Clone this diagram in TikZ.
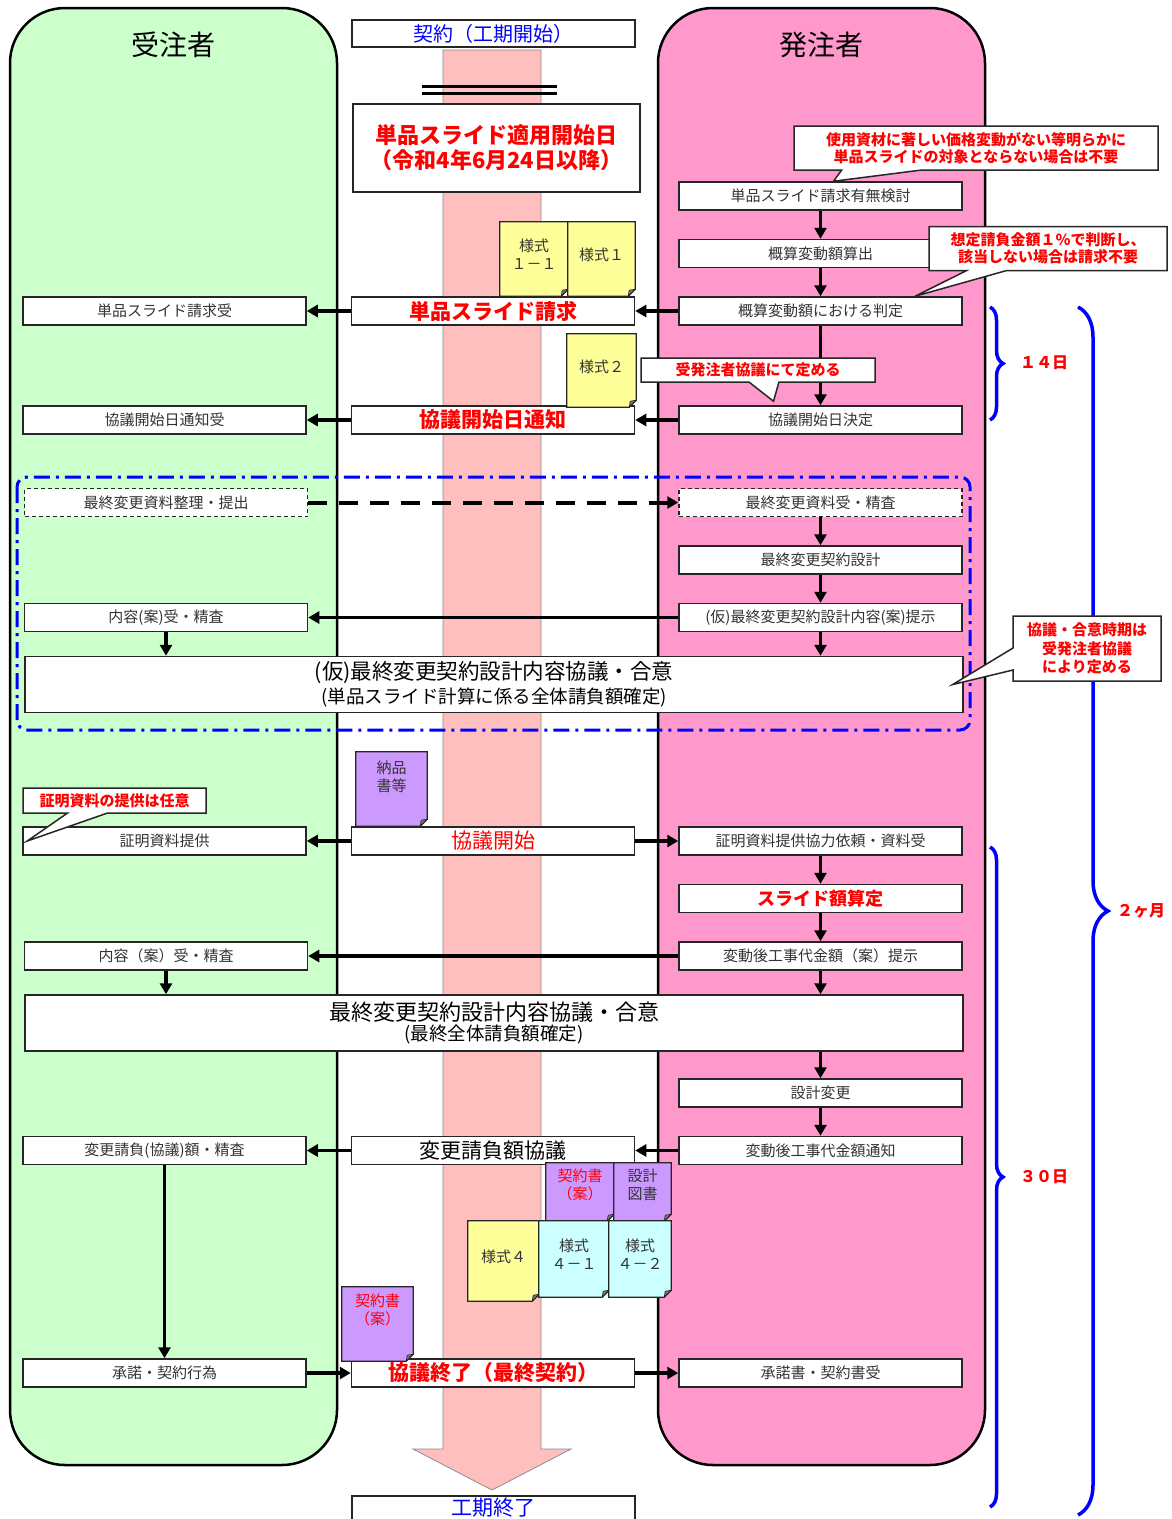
\documentclass[tikz,border=0pt]{standalone}
\usepackage{fontspec}
\setmainfont{Noto Sans CJK JP}
\usepackage{tikz}
\usetikzlibrary{arrows,arrows.meta,positioning,shapes.callouts,decorations.pathreplacing}
\definecolor{laneA}{HTML}{CCFFCC}
\definecolor{laneB}{HTML}{FF99CC}
\definecolor{band}{HTML}{FFBFBF}
\definecolor{formY}{HTML}{FFFF99}
\definecolor{formP}{HTML}{CC99FF}
\definecolor{formC}{HTML}{CCFFFF}
\newcommand{\mSize}[2]{\fontsize{#1}{#2}\selectfont}
\newcommand{\msg}[3][flow]{\draw[#1] (#2) -- (#3)}
\newcommand{\form}[7][]{%
  \node[minimum width=#4, minimum height=#5, inner sep=0pt] (#2) at (#3) {};
  \filldraw[fill=#6, draw=black!85, line width=1.2pt] (#2.north west) -- (#2.north east) -- ([yshift=7pt]#2.south east) -- ([xshift=-7pt]#2.south east) -- (#2.south west) -- cycle;
  \filldraw[fill=black!55, draw=black!85, line width=0.6pt] ([yshift=7pt]#2.south east) -- ([xshift=-7pt]#2.south east) -- ([xshift=-6pt,yshift=6pt]#2.south east) -- cycle;
  \node[formtext,#1] (#2t) at (#2) {#7}}
\tikzset{
  lane/.style={line width=2.5pt, rounded corners=55pt},
  box/.style={draw=black!85, line width=1.5pt, fill=white, minimum width=283pt, minimum height=28pt, inner sep=0pt, text=black!80, font=\mSize{15}{18}},
  dbox/.style={box, dash pattern=on 4pt off 3pt},
  hotbox/.style={box, text=red, font=\mSize{21}{24}\bfseries},
  widebox/.style={box, minimum width=938pt, minimum height=56pt, align=center, text=black},
  note/.style={rectangle callout, draw=black!85, line width=1.5pt, fill=white, text=red, font=\mSize{15}{17}\bfseries, align=center, inner sep=2pt, callout pointer width=40pt},
  formtext/.style={align=center, text=black!80, font=\mSize{15}{18}},
  flow/.style={line width=3.5pt, -{Triangle[length=11pt,width=12pt]}},
  tbrace/.style={draw=blue, line width=3.5pt, decorate, decoration={brace, amplitude=#1}},
  days/.style={text=red, font=\mSize{16}{18}\bfseries}
}

\begin{document}
\begin{tikzpicture}[x=1pt,y=1pt]
    \useasboundingbox (0,0) rectangle (1172,-1519);
    \draw [lane, fill=laneA] (10,-8) rectangle (337,-1465);
    \draw [lane, fill=laneB] (658,-8) rectangle (985,-1465);
    \node[font=\mSize{28}{30}] (ctr) at (173,-45) {受注者};
    \node[font=\mSize{28}{30}] (own) at (821,-45) {発注者};
    \filldraw [fill=band, draw=black!45, line width=0.8pt] (443,-50) -- (541,-50) -- (541,-1449) -- (571,-1449) -- (492,-1490) -- (413,-1449) -- (443,-1449) -- cycle;
    \draw [line width=3pt] (422,-86) -- (557,-86);
    \draw [line width=3pt] (422,-93) -- (557,-93);
    \draw [blue, line width=3pt, dash pattern=on 16pt off 6pt on 3pt off 6pt, rounded corners=10pt] (17,-477) rectangle (970,-730);
    % time spans
    \draw [tbrace=13pt] (990,-307) -- (990,-420);
    \draw [tbrace=30pt] (1078,-307) -- (1078,-1515);
    \draw [tbrace=13pt] (990,-847) -- (990,-1507);
    \node[days] (d14) at (1044,-363) {１４日};
    \node[days] (m2) at (1141,-911) {２ヶ月};
    \node[days] (d30) at (1044,-1177) {３０日};

    \node[box, minimum height=27pt, text=blue, font=\mSize{20}{22}] (kick) at (493.5,-33.5) {契約（工期開始）};
    \node[box, minimum width=287pt, minimum height=88pt, align=center, text=red, font=\mSize{22}{25}\bfseries] (apply) at (496.5,-148) {単品スライド適用開始日\\（令和4年6月24日以降）};

    \node[box] (chk) at (820.5,-196) {単品スライド請求有無検討};
    \node[box, below=28pt of chk] (est) {概算変動額算出};
    \node[box, below=28pt of est] (judge) {概算変動額における判定};
    \node[hotbox, left=43pt of judge] (req) {単品スライド請求};
    \node[box, left=44pt of req] (reqrecv) {単品スライド請求受};
    \node[box] (decide) at (820.5,-420) {協議開始日決定};
    \node[hotbox, left=43pt of decide] (notify) {協議開始日通知};
    \node[box, left=44pt of notify] (notirecv) {協議開始日通知受};

    \node[dbox] (recv) at (820.5,-502.5) {最終変更資料受・精査};
    \node[dbox, left=370pt of recv] (submit) {最終変更資料整理・提出};
    \node[box, below=28pt of recv] (design) {最終変更契約設計};
    \node[box, below=28pt of design] (present) {(仮)最終変更契約設計内容(案)提示};
    \node[box, left=370pt of present] (review1) {内容(案)受・精査};
    \node[widebox, font=\mSize{21}{24}] (agree1) at (494,-684.5) {{\mSize{21.5}{24}(仮)最終変更契約設計内容協議・合意}\\{\mSize{18.5}{20}(単品スライド計算に係る全体請負額確定)}};

    \node[box] (coop) at (820.5,-841) {証明資料提供協力依頼・資料受};
    \node[box, text=red, font=\mSize{21}{24}, left=43pt of coop] (start2) {協議開始};
    \node[box, left=44pt of start2] (proof) {証明資料提供};
    \node[box, below=28pt of coop, text=red, font=\mSize{18}{20}\bfseries] (slide) {スライド額算定};
    \node[box, below=28pt of slide] (newamt) {変動後工事代金額（案）提示};
    \node[box, left=370pt of newamt] (review2) {内容（案）受・精査};
    \node[widebox, font=\mSize{22}{20}] (agree2) at (494,-1023) {{\mSize{22}{20}最終変更契約設計内容協議・合意}\\{\mSize{18.5}{20}(最終全体請負額確定)}};
    \node[box] (change) at (820.5,-1093) {設計変更};
    \node[box, below=28pt of change] (notice) {変動後工事代金額通知};
    \node[box, text=black, font=\mSize{21}{24}, left=43pt of notice] (nego) {変更請負額協議};
    \node[box, left=44pt of nego] (check) {変更請負(協議)額・精査};

    \node[box] (accept) at (820.5,-1373) {承諾書・契約書受};
    \node[hotbox, left=43pt of accept] (final) {協議終了（最終契約）};
    \node[box, left=44pt of final] (sign) {承諾・契約行為};
    \node[box, minimum height=34pt, text depth=12pt, text=blue, font=\mSize{21}{24}] (fin) at (493.5,-1513) {工期終了};

    \msg{chk}{est};
    \msg{est}{judge};
    \msg{judge.west}{req.east};
    \msg{req.west}{reqrecv.east};
    \msg{judge}{decide};
    \msg{decide.west}{notify.east};
    \msg{notify.west}{notirecv.east};
    \draw[flow, line width=4pt, dash pattern=on 19pt off 12pt] (submit.east) -- (recv.west);
    \msg{recv}{design};
    \msg{design}{present};
    \msg{present.west}{review1.east};
    \msg{review1.south}{review1.south |- agree1.north};
    \msg{present.south}{present.south |- agree1.north};
    \msg{start2.west}{proof.east};
    \msg{start2.east}{coop.west};
    \msg{coop}{slide};
    \msg{slide}{newamt};
    \msg{newamt.west}{review2.east};
    \msg{review2.south}{review2.south |- agree2.north};
    \msg{newamt.south}{newamt.south |- agree2.north};
    \msg{change.north |- agree2.south}{change.north};
    \msg{change}{notice};
    \msg{notice.west}{nego.east};
    \msg{nego.west}{check.east};
    \msg{check}{sign};
    \msg{sign.east}{final.west};
    \msg{final.east}{accept.west};

    % forms
    \form[yshift=5pt]{f11}{534,-259}{68pt}{74pt}{formY}{様式\\１－１};
    \form[yshift=4pt]{f1}{601.5,-259}{67pt}{74pt}{formY}{様式１};
    \form[yshift=4pt]{f2}{601.5,-370.5}{69pt}{73pt}{formY}{様式２};
    \form[yshift=12pt]{dlv}{391.5,-789}{71pt}{74pt}{formP}{納品\\書等};
    \form[yshift=7pt, text=red]{ctA}{580,-1192}{68pt}{58pt}{formP}{契約書\\（案）};
    \form[yshift=7pt]{dwg}{642.5,-1192}{57pt}{58pt}{formP}{設計\\図書};
    \form[yshift=4pt]{f4}{503.5,-1261}{71pt}{80pt}{formY}{様式４};
    \form[yshift=5pt]{f41}{574,-1259}{70pt}{76pt}{formC}{様式\\４－１};
    \form[yshift=5pt]{f42}{640,-1259}{62pt}{76pt}{formC}{様式\\４－２};
    \form[yshift=14pt, text=red]{ctB}{377.5,-1324}{71pt}{74pt}{formP}{契約書\\（案）};

    % remarks
    \coordinate (tipA) at ([xshift=13pt]chk.north);
    \coordinate (tipB) at ([xshift=94.5pt]judge.north);
    \coordinate (tipC) at ([xshift=-47pt,yshift=4pt]decide.north);
    \coordinate (tipD) at ([xshift=-11pt]agree1.east);
    \coordinate (tipE) at ([xshift=5pt]proof.west);
    \node[note, callout absolute pointer=(tipA), callout pointer width=80pt, minimum width=364pt, minimum height=44pt] (noteA) at (976,-148) {使用資材に著しい価格変動がない等明らかに\\単品スライドの対象とならない場合は不要};
    \node[note, callout absolute pointer=(tipB), minimum width=238pt, minimum height=44pt] (noteB) at (1048,-248.5) {想定請負金額１％で判断し、\\該当しない場合は請求不要};
    \node[note, callout absolute pointer=(tipC), callout pointer width=30pt, minimum width=234pt, minimum height=24pt] (noteC) at (758,-370) {受発注者協議にて定める};
    \node[note, callout absolute pointer=(tipD), callout pointer width=22pt, minimum width=148pt, minimum height=65pt, font=\mSize{15}{18.5}\bfseries] (noteD) at (1087,-648.5) {協議・合意時期は\\受発注者協議\\により定める};
    \node[note, callout absolute pointer=(tipE), minimum width=183pt, minimum height=25pt] (noteE) at (114.5,-800.5) {証明資料の提供は任意};
\end{tikzpicture}
\end{document}
